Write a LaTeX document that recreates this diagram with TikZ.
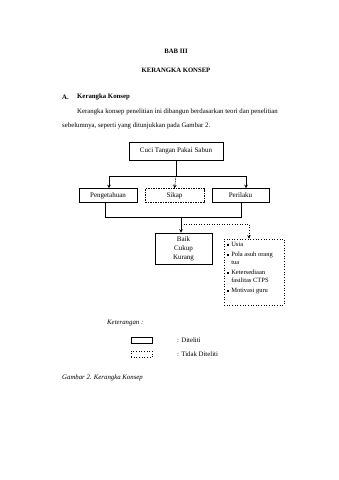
\documentclass[tikz,border=0pt]{standalone}
\usepackage{fontspec}
\setmainfont{Liberation Serif}
\usetikzlibrary{arrows.meta}
\newcommand{\sqbul}{\raisebox{0.5pt}{\rule{2.1pt}{2.1pt}}}
\begin{document}
\begin{tikzpicture}[x=1pt,y=-1pt,
  every node/.style={inner sep=0pt, font=\fontsize{6.8}{8}\selectfont},
  txt/.style={anchor=west},
  box/.style={draw, line width=0.55pt, inner sep=0pt},
  dashbox/.style={draw, line width=0.55pt, dash pattern=on 1.5pt off 1pt, inner sep=0pt},
  dotbox/.style={draw, line width=0.65pt, dotted, inner sep=0pt},
  con/.style={line width=0.55pt},
  arr/.style={line width=0.55pt, -{Stealth[length=3.5pt,width=3.5pt]}},
  small/.style={font=\fontsize{7}{8}\selectfont}
]
\useasboundingbox (0,0) rectangle (339,480);
\fill[white] (0,0) rectangle (339,480);

% headings
\node[font=\fontsize{6.7}{8}\selectfont\bfseries] (bab) at (176,51) {BAB III};
\node[font=\fontsize{6.7}{8}\selectfont\bfseries] (judul) at (176,70) {KERANGKA KONSEP};
\node[txt, font=\fontsize{6.8}{8}\selectfont\bfseries] (secA) at (62,97) {A.};
\node[txt, font=\fontsize{6.8}{8}\selectfont\bfseries] (secT) at (77,97) {Kerangka Konsep};
\node[txt] (par1) at (77,112) {Kerangka konsep penelitian ini dibangun berdasarkan teori dan penelitian};
\node[txt] (par2) at (62,126) {sebelumnya, seperti yang ditunjukkan pada Gambar 2.};

% diagram boxes
\node[box, small, minimum width=94pt, minimum height=18pt] (cuci) at (176,151) {Cuci Tangan Pakai Sabun};
\node[box, small, minimum width=58pt, minimum height=14pt] (peng) at (108,195.5) {Pengetahuan};
\node[dashbox, small, minimum width=59pt, minimum height=14pt] (sikap) at (174.5,195.5) {Sikap};
\node[box, small, align=center, minimum width=57pt, minimum height=14pt] (peri) at (240.5,195.5) {Perilaku};
\node[box, align=center, minimum width=57pt, minimum height=31pt, font=\fontsize{7}{9}\selectfont] (baik) at (183.5,248.5) {Baik\\Cukup\\Kurang};
\node[dotbox, minimum width=60pt, minimum height=66pt] (faktor) at (254,272) {};
\node[anchor=north west, font=\fontsize{6.5}{8.3}\selectfont] (faktortxt) at (226.5,240.5) {%
\begin{tabular}{@{}l@{\hspace{2.5pt}}l@{}}
\sqbul & Usia\\[1.5pt]
\sqbul & Pola asuh orang\\
 & tua\\[1.5pt]
\sqbul & Ketersediaan\\
 & fasilitas CTPS\\[1.5pt]
\sqbul & Motivasi guru
\end{tabular}};

% connectors top
\coordinate (jc) at (176,176);
\coordinate (jl) at (109,176);
\coordinate (jr) at (246,176);
\draw[con] (cuci.south) -- (jc);
\draw[con] (jl) -- (jr);
\draw[arr] (jl) -- (jl |- peng.north);
\draw[arr] (jr) -- (jr |- peri.north);
\draw[arr, dash pattern=on 1.5pt off 1pt] (jc) -- (sikap.north);

% connectors bottom
\coordinate (bl) at (105,217);
\coordinate (br) at (241,217);
\coordinate (bc) at (181,217);
\draw[con] (peng.south -| bl) -- (bl) -- (br) -- (peri.south -| br);
\draw[arr] (bc) -- (bc |- baik.north);
\coordinate (dc) at (181,224);
\coordinate (dr) at (249,224);
\draw[arr, dotted, line width=0.65pt] (dc) -- (dr) -- (dr |- faktor.north);

% legend
\node[txt, font=\fontsize{6.8}{8}\selectfont\itshape] (ket) at (107,323) {Keterangan :};
\node[box, line width=0.7pt, minimum width=21pt, minimum height=6pt] (leg1) at (141.5,340) {};
\node[txt] (leg1t) at (177,340) {: Diteliti};
\node[dotbox, line width=0.75pt, minimum width=21pt, minimum height=6pt] (leg2) at (141.5,354) {};
\node[txt] (leg2t) at (177,354) {: Tidak Diteliti};

% caption
\node[txt, font=\fontsize{6.8}{8}\selectfont\itshape] (cap) at (62,378) {Gambar 2. Kerangka Konsep};
\end{tikzpicture}
\end{document}
